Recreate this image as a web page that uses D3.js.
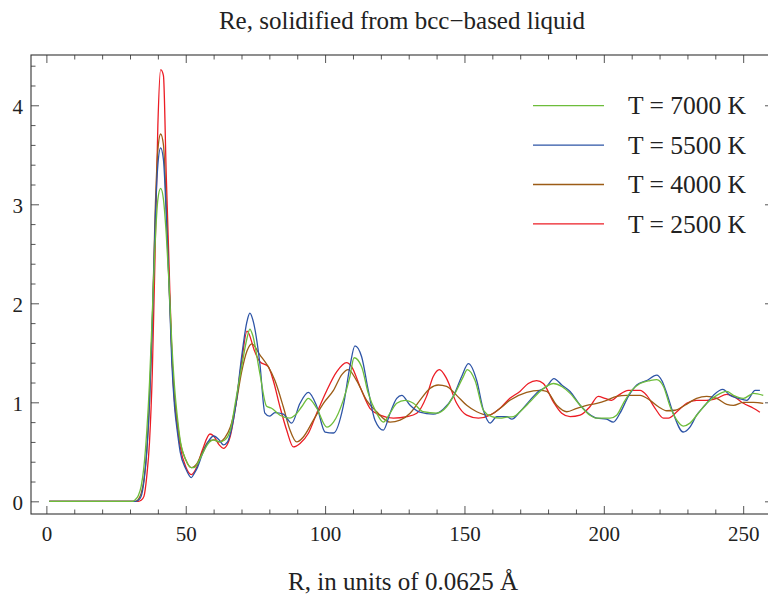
<!DOCTYPE html>
<html><head><meta charset="utf-8">
<script src="https://cdn.jsdelivr.net/npm/d3@7"></script>
<style>
html,body{margin:0;padding:0;background:#fff;}
svg text{font-family:"Liberation Serif","DejaVu Serif","Times New Roman",serif !important;}
</style></head>
<body><svg id="chart" width="768" height="600"></svg>
<script>
const title = "Re, solidified from bcc\u2212based liquid";
const xLabel = "R, in units of 0.0625 \u00C5";
const seriesNames = ["T = 7000 K", "T = 5500 K", "T = 4000 K", "T = 2500 K"];
const xMajorTicks = [0, 50, 100, 150, 200, 250];
const yMajorTicks = [0, 1, 2, 3, 4];

const rGreen = [1,31,32,33,34,35,36,37,38,39,40,41,42,43,44,45,46,47,48,50,52,53,54,56,58,60,62,64,66,68,70,72,73,74,76.6,79,80.8,83.8,87.4,89.2,91.6,94,97,100.6,103,106.5,108.9,110.4,113.1,115.5,118.5,120.9,123.3,125.7,128.7,131.7,135.2,140,143.6,146.6,149.6,151,153.8,156.8,159.8,162.8,165.2,167.6,169.9,173.5,177.1,181.9,184.9,187.9,191.5,195,197.5,202.2,204.6,207,210,213,216.6,219,221.4,223.8,226.2,228.5,230.9,233.9,236.9,240.5,244.1,246.5,250.1,253.7,257.2];
const vGreen = [0,0,0.02,0.06,0.15,0.35,0.7,1.2,1.9,2.6,3.05,3.16,3.05,2.7,2.2,1.6,1.15,0.85,0.62,0.42,0.34,0.34,0.37,0.48,0.58,0.62,0.6,0.62,0.72,1.03,1.35,1.65,1.74,1.68,1.29,0.96,0.94,0.87,0.84,0.87,0.955,1.04,0.94,0.75,0.80,1.02,1.26,1.45,1.36,1.09,0.89,0.80,0.89,0.99,1.02,0.99,0.905,0.89,0.955,1.09,1.26,1.33,1.22,0.92,0.855,0.84,0.85,0.855,0.905,1.005,1.11,1.19,1.16,1.09,0.97,0.87,0.84,0.84,0.87,0.99,1.12,1.19,1.22,1.23,1.16,0.955,0.82,0.76,0.79,0.89,0.99,1.07,1.11,1.07,1.04,1.09,1.07];

const rBlue = [1,32,33,34,35,36,37,38,39,40,41,42,43,44,45,46,47,48,50,52,53,54,56,58,60,62,63.5,65,66,68,70,72,73,74,76.6,78.4,80,82,85,88,91,94,97,100,103,106.5,108.9,110.7,113.1,115.5,117.9,120.9,123.3,125.7,127.5,130.5,134,138.8,142.4,146,149,151.4,154.4,156.8,159.2,161.6,165.2,167,169.9,173.5,176.5,179.5,182.1,184.9,187.9,191.5,194.4,197.5,201,203.4,205.8,208.8,211.8,215.4,219,220.8,222.6,224.9,228.5,230.9,233.3,236.3,239.3,242.7,245.3,248.3,251.3,254.3,256];
const vBlue = [0,0,0.01,0.05,0.2,0.5,1.0,1.8,2.8,3.4,3.57,3.45,2.9,2.2,1.4,0.95,0.7,0.5,0.33,0.24,0.28,0.33,0.48,0.6,0.66,0.62,0.57,0.6,0.68,0.98,1.45,1.82,1.90,1.84,1.39,0.89,0.86,0.895,0.88,0.79,0.99,1.10,0.96,0.70,0.69,0.96,1.36,1.57,1.46,1.12,0.82,0.72,0.89,1.04,1.07,0.97,0.90,0.88,0.93,1.06,1.26,1.39,1.22,0.92,0.79,0.855,0.855,0.83,0.905,1.02,1.11,1.16,1.24,1.175,1.11,0.97,0.89,0.84,0.83,0.80,0.89,1.06,1.175,1.22,1.275,1.22,1.09,0.89,0.70,0.75,0.87,0.97,1.07,1.13,1.07,1.04,1.02,1.12,1.12];

const rBrown = [1,32,33,34,35,36,37,38,39,40,41,42,43,44,45,46,47,48,50,52,54,56,58,60,62,64,66,68,70,72,73.7,76.6,79.6,82,85,87.4,89.8,92.2,95.8,99.4,103,106,108.3,111.3,114.9,118.5,123.3,126.9,130.5,134,137.6,140.6,143.6,147.2,150.8,154.4,158.6,162.8,166.3,172.3,177.1,179.5,183.1,186.7,190.3,193.9,197.5,201,204.6,208.2,213,216.6,219.6,222.6,225.6,229.1,233.3,236.9,240.5,244.1,246.5,250.1,253.7,257.2];
const vBrown = [0,0,0.02,0.08,0.22,0.5,1.0,1.8,2.9,3.55,3.71,3.6,3.0,2.2,1.5,1.05,0.8,0.6,0.42,0.34,0.38,0.5,0.6,0.62,0.6,0.64,0.75,0.98,1.3,1.52,1.59,1.48,1.36,1.22,0.955,0.72,0.60,0.65,0.82,0.99,1.12,1.28,1.33,1.22,1.02,0.905,0.80,0.82,0.89,1.02,1.14,1.175,1.16,1.07,0.97,0.905,0.87,0.94,1.02,1.10,1.12,1.11,0.97,0.905,0.94,0.97,0.99,1.02,1.06,1.07,1.07,1.02,0.955,0.915,0.92,0.97,1.04,1.06,1.04,0.98,0.97,1.0,1.0,0.99];

const rRed = [1,33,34,35,36,37,38,39,40,41,42,43,44,45,46,47,48,50,52,54,56,58.7,60,62,63.5,65,66,68,70,72,74.8,76.6,79.6,81.4,83.8,86.2,88.6,91,94,97,100.6,104.2,107.7,109.5,112.5,116.1,119.7,124.5,129.3,132.9,136.4,138.8,141,143.6,147.2,150.8,155,159.2,162.8,166.3,169.9,172.9,175.9,178.3,181.9,184.9,187.9,191.5,195,198,200.4,202.8,205.2,208.8,213,215.4,218.4,221.4,223.2,226.2,229.7,233.3,236.9,240.5,244.1,246.5,250.1,253.7,256];
const vRed = [0,0,0.01,0.05,0.25,0.6,1.3,2.5,3.8,4.36,4.3,3.3,2.4,1.5,1.0,0.75,0.55,0.35,0.27,0.35,0.52,0.68,0.66,0.57,0.535,0.58,0.66,0.98,1.4,1.72,1.51,1.41,1.36,1.22,0.955,0.72,0.55,0.585,0.687,0.89,1.12,1.31,1.40,1.36,1.16,0.94,0.87,0.84,0.855,0.89,1.06,1.26,1.33,1.24,0.99,0.87,0.84,0.87,0.94,1.04,1.11,1.19,1.22,1.19,1.005,0.89,0.855,0.87,0.955,1.06,1.04,1.02,1.07,1.12,1.12,1.07,0.94,0.84,0.84,0.905,0.99,1.02,1.02,1.04,1.08,1.06,0.99,0.94,0.90];

const colors = ["#6dbd3b", "#2d54a6", "#9c5c16", "#ec1c24"];
const seriesR = [rGreen, rBlue, rBrown, rRed];
const seriesV = [vGreen, vBlue, vBrown, vRed];
const FONT = "'Liberation Serif', 'DejaVu Serif', 'Times New Roman', serif";

const svg = d3.select("#chart");
const L = 31, T = 55, R = 773, B = 514;
const x = d3.scaleLinear().domain([-5.52, 260.7]).range([L, R]);
const y = d3.scaleLinear().domain([-0.128, 4.508]).range([B, T]);

svg.append("text").attr("x", 402).attr("y", 29).attr("text-anchor", "middle")
  .attr("font-family", FONT).attr("font-size", 25).attr("fill", "#222").text(title);
svg.append("text").attr("x", 403).attr("y", 590).attr("text-anchor", "middle")
  .attr("font-family", FONT).attr("font-size", 25).attr("fill", "#222").text(xLabel);

const xMinor = d3.range(0, 261, 10).filter(v => v % 50 !== 0);
const yMinor = d3.range(0, 45, 2).map(v => v / 10).filter(v => Math.abs(v - Math.round(v)) > 1e-6);

function styleAxis(g) {
  g.attr("font-family", FONT);
  g.select(".domain").remove();
  g.selectAll("line").attr("stroke", "#555").attr("stroke-width", 1);
  g.selectAll("text").attr("font-family", FONT).attr("font-size", 21).attr("fill", "#222");
}
svg.append("g").attr("transform", `translate(0,${B})`)
  .call(d3.axisBottom(x).tickValues(xMajorTicks).tickSizeInner(-8).tickSizeOuter(0).tickPadding(12).tickFormat(d3.format("d")))
  .call(styleAxis);
svg.append("g").attr("transform", `translate(0,${B})`)
  .call(d3.axisBottom(x).tickValues(xMinor).tickSizeInner(-4.5).tickSizeOuter(0).tickFormat(""))
  .call(styleAxis);
svg.append("g").attr("transform", `translate(0,${T})`)
  .call(d3.axisTop(x).tickValues(xMajorTicks).tickSizeInner(-8).tickSizeOuter(0).tickFormat(""))
  .call(styleAxis);
svg.append("g").attr("transform", `translate(0,${T})`)
  .call(d3.axisTop(x).tickValues(xMinor).tickSizeInner(-4.5).tickSizeOuter(0).tickFormat(""))
  .call(styleAxis);
const gl = svg.append("g").attr("transform", `translate(${L},0)`)
  .call(d3.axisLeft(y).tickValues(yMajorTicks).tickSizeInner(-8).tickSizeOuter(0).tickPadding(8).tickFormat(d3.format("d")))
  .call(styleAxis);
gl.selectAll("text").attr("dy", "0.4em");
svg.append("g").attr("transform", `translate(${L},0)`)
  .call(d3.axisLeft(y).tickValues(yMinor).tickSizeInner(-4.5).tickSizeOuter(0).tickFormat(""))
  .call(styleAxis);
svg.append("g").attr("transform", `translate(${R},0)`)
  .call(d3.axisRight(y).tickValues(yMajorTicks).tickSizeInner(-8).tickSizeOuter(0).tickFormat(""))
  .call(styleAxis);
svg.append("g").attr("transform", `translate(${R},0)`)
  .call(d3.axisRight(y).tickValues(yMinor).tickSizeInner(-4.5).tickSizeOuter(0).tickFormat(""))
  .call(styleAxis);

svg.append("rect").attr("x", L).attr("y", T).attr("width", R - L).attr("height", B - T)
  .attr("fill", "none").attr("stroke", "#333").attr("stroke-width", 1.1);

const line = d3.line().x(d => x(d[0])).y(d => y(d[1])).curve(d3.curveMonotoneX);
const plot = svg.append("g");
[3, 2, 1, 0].forEach(i => {
  const pts = seriesR[i].map((r, k) => [r, seriesV[i][k]]);
  plot.append("path").datum(pts).attr("d", line).attr("fill", "none")
    .attr("stroke", colors[i]).attr("stroke-width", 1.3).attr("stroke-linejoin", "round");
});

const leg = svg.append("g");
seriesNames.forEach((name, i) => {
  const yy = 105.7 + i * 39.4;
  leg.append("line").attr("x1", 533).attr("x2", 604).attr("y1", yy).attr("y2", yy)
    .attr("stroke", colors[i]).attr("stroke-width", 1.3);
  leg.append("text").attr("x", 628).attr("y", yy + 8.6).attr("font-family", FONT).attr("font-size", 25.5)
    .attr("fill", "#222").text(name);
});
</script></body></html>
